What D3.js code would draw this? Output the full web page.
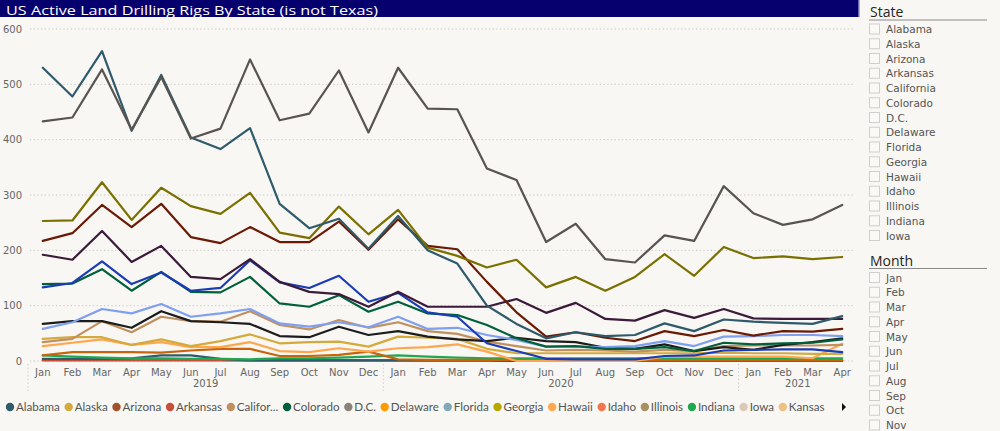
<!DOCTYPE html>
<html><head><meta charset="utf-8">
<script src="https://cdn.jsdelivr.net/npm/d3@7"></script>
<style>html,body{margin:0;padding:0;background:#f8f7f3;overflow:hidden}</style>
</head><body>
<script>
// ---------- DATA ----------
const months = ["Jan","Feb","Mar","Apr","May","Jun","Jul","Aug","Sep","Oct","Nov","Dec",
                "Jan","Feb","Mar","Apr","May","Jun","Jul","Aug","Sep","Oct","Nov","Dec",
                "Jan","Feb","Mar","Apr"];
const years = ["2019","2020","2021"];
const monthYear = months.map((m,i)=> years[Math.floor(i/12)]);
const yTicks = [0,100,200,300,400,500,600];

const newMexico    = [433,440,527,418,513,402,420,545,435,447,525,413,530,456,455,348,327,215,248,184,178,227,217,316,267,246,256,282];
const oklahoma     = [530,478,560,416,517,404,383,421,284,240,257,203,262,200,176,100,67,41,52,45,47,68,54,75,71,69,67,81];
const louisiana    = [253,254,323,255,313,280,266,304,232,222,279,229,273,205,190,169,183,133,152,127,152,193,154,206,186,189,184,188];
const northDakota  = [217,231,282,242,284,224,213,242,215,215,252,201,256,208,202,143,88,44,52,42,36,54,45,56,46,54,53,58];
const pennsylvania = [192,183,235,179,208,152,148,184,143,125,121,98,125,98,98,98,112,87,105,76,73,92,78,94,77,76,76,76];
const wyoming      = [133,141,180,139,160,127,132,182,142,132,154,107,123,88,80,32,18,4,3,3,3,9,10,19,20,21,21,16];
const colorado     = [139,140,166,127,161,125,124,152,104,98,119,89,107,86,83,65,41,26,27,22,22,25,18,33,30,32,33,39];
const westVirginia = [58,70,94,86,103,80,86,94,68,62,70,61,80,58,60,47,38,26,26,25,27,36,27,44,45,47,47,45];
const utah         = [67,72,72,60,90,72,70,67,45,43,62,47,54,44,39,36,42,36,34,24,22,30,18,25,20,29,34,41];
const california   = [34,40,72,52,80,72,71,90,65,57,74,60,70,54,49,35,27,19,20,19,17,20,18,27,28,28,28,29];
const alaska       = [40,43,43,29,39,27,36,48,32,34,35,26,44,42,40,22,14,14,14,14,14,14,14,15,14,14,13,13];
const kansas       = [27,33,39,29,34,25,25,34,18,16,23,17,23,25,30,17,0,0,0,0,0,8,8,8,8,8,5,31];
const ohio         = [10,16,16,16,15,19,22,22,9,9,11,17,3,2,2,2,2,1,1,1,1,1,1,1,1,1,1,1];
const indiana      = [10,8,6,5,5,4,4,3,5,5,6,8,10,8,6,5,5,5,5,5,5,5,5,5,5,5,5,5];
const alabama      = [4,4,4,5,10,10,4,1,1,1,1,1,1,1,1,1,0,0,0,0,0,0,0,0,0,0,0,0];
const arkansas     = [2,2,2,2,2,2,2,1,1,1,1,1,1,1,1,1,0,0,0,0,0,0,0,0,0,0,0,0];
const mississippi  = [1,1,1,1,1,1,1,1,1,1,1,1,1,1,1,1,1,1,1,1,1,1,1,1,1,1,1,1];

const seriesNames = ["Mississippi","Arkansas","Alabama","Indiana","Ohio","Kansas","Alaska","California","Utah",
  "West Virginia","Colorado","Wyoming","Pennsylvania","North Dakota","Louisiana","Oklahoma","New Mexico"];
const seriesValues = [mississippi,arkansas,alabama,indiana,ohio,kansas,alaska,california,utah,
  westVirginia,colorado,wyoming,pennsylvania,northDakota,louisiana,oklahoma,newMexico];

const legendNames = ["Alabama","Alaska","Arizona","Arkansas","Califor...","Colorado","D.C.","Delaware","Florida",
  "Georgia","Hawaii","Idaho","Illinois","Indiana","Iowa","Kansas"];
const stateSlicer = ["Alabama","Alaska","Arizona","Arkansas","California","Colorado","D.C.","Delaware","Florida",
  "Georgia","Hawaii","Idaho","Illinois","Indiana","Iowa"];
const monthSlicer = ["Jan","Feb","Mar","Apr","May","Jun","Jul","Aug","Sep","Oct","Nov"];

// ---------- STYLES ----------
const lineColor = {
  "Mississippi":"#a0405e","Arkansas":"#c8503a","Alabama":"#2f5b6b","Indiana":"#20a850","Ohio":"#c8650c",
  "Kansas":"#ffa64d","Alaska":"#d4aa3c","California":"#c09060","Utah":"#1c1c1c","West Virginia":"#7f9ff0",
  "Colorado":"#00603c","Wyoming":"#1a3cb4","Pennsylvania":"#3c1a3a","North Dakota":"#6b1a06",
  "Louisiana":"#7a7000","Oklahoma":"#2e5a6b","New Mexico":"#5a5450"
};
const legendColors = ["#2f5b6b","#d4aa3c","#a0502a","#c8503a","#c09060","#00603c","#8c8278","#ff9900","#80a8b8",
  "#b5a800","#ffa850","#f07850","#a89060","#20a850","#dcc8b8","#f0c080"];

const W = 1000, H = 431;
const svg = d3.select("body").append("svg").attr("width",W).attr("height",H);
svg.append("rect").attr("width",W).attr("height",H).attr("fill","#f8f7f3");

// title
svg.append("rect").attr("x",0).attr("y",0).attr("width",858).attr("height",17).attr("fill","#06006f");
svg.append("rect").attr("x",858).attr("y",0).attr("width",1.5).attr("height",17).attr("fill","#6a6ab0");
svg.append("text").attr("x",6).attr("y",14.5).attr("fill","#fff")
  .style("font-family","'Open Sans', sans-serif").style("font-size","13.5px")
  .attr("textLength",372).attr("lengthAdjust","spacingAndGlyphs")
  .text("US Active Land Drilling Rigs By State (is not Texas)");

// scales
const x = d3.scaleBand().domain(d3.range(months.length)).range([28,857]).paddingInner(0).paddingOuter(0);
const xc = i => x(i) + x.bandwidth()/2;
const y = d3.scaleLinear().domain([0,600]).range([361,29]);

// gridlines
svg.append("g").selectAll("line").data(yTicks).join("line")
  .attr("x1",30).attr("x2",853).attr("y1",d=>y(d)).attr("y2",d=>y(d))
  .attr("stroke","#c8c8c8").attr("stroke-width",1).attr("stroke-dasharray","1.3,2.4");

// y axis
const yAxis = svg.append("g").attr("transform","translate(28,0)")
  .call(d3.axisLeft(y).tickValues(yTicks).tickSize(0).tickPadding(6));
yAxis.select(".domain").remove();
yAxis.selectAll("text").attr("fill","#666").style("font-family","'DejaVu Sans', sans-serif").style("font-size","10px");

// x axis months
const xAxis = svg.append("g").attr("transform","translate(0,363)")
  .call(d3.axisBottom(x).tickFormat(i=>months[i]).tickSize(0).tickPadding(6));
xAxis.select(".domain").remove();
xAxis.selectAll("text").attr("fill","#666").style("font-family","'DejaVu Sans', sans-serif").style("font-size","10px");

// year labels and separators
years.forEach(yr=>{
  const idx = d3.range(months.length).filter(i=>monthYear[i]===yr);
  const cx = (xc(idx[0]) + xc(idx[idx.length-1]))/2;
  svg.append("text").attr("x",cx).attr("y",387).attr("text-anchor","middle").attr("fill","#666")
    .style("font-family","'DejaVu Sans', sans-serif").style("font-size","10px").text(yr);
  const sx = x(idx[0]);
  svg.append("line").attr("x1",sx).attr("x2",sx).attr("y1",364).attr("y2",391)
    .attr("stroke","#c8c8c8").attr("stroke-dasharray","1.3,2.4");
});

// lines
const line = d3.line().x((d,i)=>xc(i)).y(d=>y(d));
svg.append("g").selectAll("path").data(seriesNames).join("path")
  .attr("d",(n,k)=>line(seriesValues[k]))
  .attr("fill","none").attr("stroke",n=>lineColor[n]).attr("stroke-width",2.2)
  .attr("stroke-linejoin","round").attr("stroke-linecap","round");

// legend
const lg = svg.append("g");
let lx = 10;
legendNames.forEach((n,k)=>{
  lg.append("circle").attr("cx",lx).attr("cy",407).attr("r",4.2).attr("fill",legendColors[k]);
  const t = lg.append("text").attr("x",lx+6).attr("y",411.2).attr("fill","#555")
    .style("font-family","Lato, sans-serif").style("font-size","11.6px").text(n);
  lx += 6 + t.node().getComputedTextLength() + 8.8;
});
lg.append("path").attr("d","M842,403 L846,407 L842,411 Z").attr("fill","#111");

// slicers
function slicer(title, items, top){
  const g = svg.append("g");
  g.append("text").attr("x",870).attr("y",top).attr("fill","#252423")
    .style("font-family","'Open Sans', sans-serif").style("font-size","14px").text(title);
  g.append("line").attr("x1",869).attr("x2",987).attr("y1",top+3).attr("y2",top+3).attr("stroke","#8a8a8a").attr("stroke-width",1);
  items.forEach((it,i)=>{
    const cy = top + 12 + i*14.75;
    g.append("rect").attr("x",869.5).attr("y",cy-5).attr("width",10).attr("height",10)
      .attr("fill","#faf9f6").attr("stroke","#cfcfcf").attr("stroke-width",1);
    g.append("text").attr("x",886).attr("y",cy+4).attr("fill","#555")
      .style("font-family","'DejaVu Sans', sans-serif").style("font-size","10.5px").text(it);
  });
}
slicer("State", stateSlicer, 17);
slicer("Month", monthSlicer, 265.5);
</script>
</body></html>
